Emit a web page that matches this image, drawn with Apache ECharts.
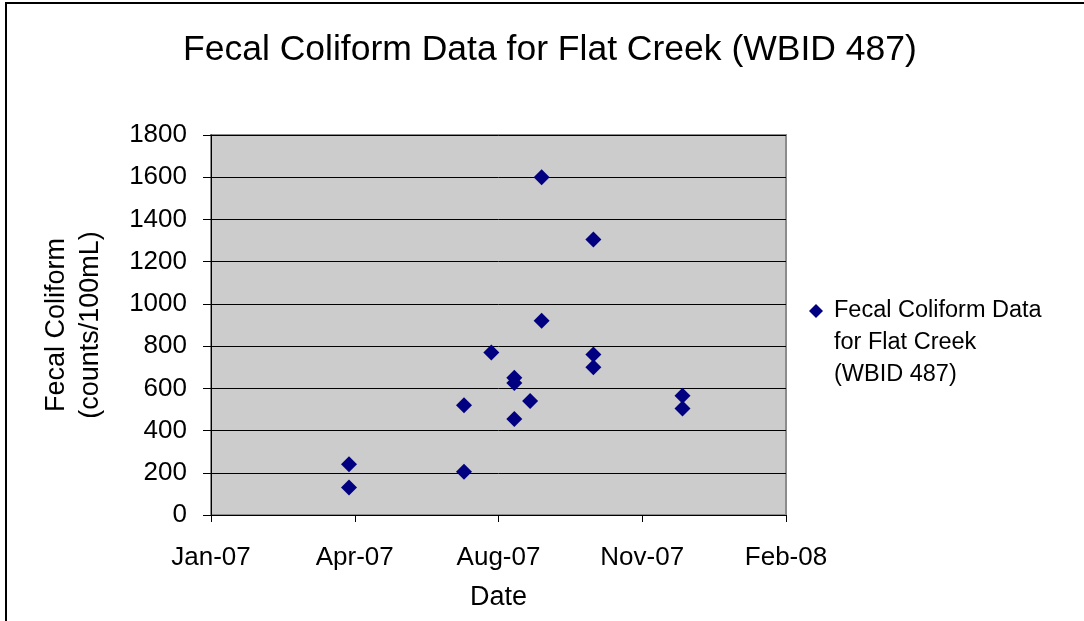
<!DOCTYPE html>
<html><head><meta charset="utf-8">
<script src="https://cdn.jsdelivr.net/npm/echarts@6/dist/echarts.min.js"></script>
<style>html,body{margin:0;padding:0;background:#fff}#c{width:1084px;height:621px}</style>
</head><body><div id="c"></div>
<script>
// Sample dates and fecal coliform counts (counts/100mL)
const sampleDates = ['2007-04-24','2007-04-24','2007-07-13','2007-07-13','2007-08-01','2007-08-17','2007-08-17','2007-08-17','2007-08-28','2007-09-05','2007-09-05','2007-10-11','2007-10-11','2007-10-11','2007-12-12','2007-12-12'];
const fecalValues = [240, 130, 205, 520, 770, 650, 625, 455, 540, 1600, 920, 1305, 760, 700, 565, 505];
// X axis ticks as Excel date serials (Jan-07 ... Feb-08)
const xMin = 39100, xMax = 39500, xStep = 100;
// Y axis ticks
const yMin = 0, yMax = 1800, yStep = 200;
const monthNames = ['Jan','Feb','Mar','Apr','May','Jun','Jul','Aug','Sep','Oct','Nov','Dec'];
const seriesName = 'Fecal Coliform Data for Flat Creek (WBID 487)';
const legendLines = ['Fecal Coliform Data', 'for Flat Creek', '(WBID 487)'];

const EPOCH = Date.UTC(1899, 11, 30);
function toSerial(s) {
  const p = s.split('-').map(Number);
  return Math.round((Date.UTC(p[0], p[1] - 1, p[2]) - EPOCH) / 86400000);
}
function fmtSerial(v) {
  const d = new Date(EPOCH + v * 86400000);
  return monthNames[d.getUTCMonth()] + '-' + String(d.getUTCFullYear()).slice(2);
}
const points = sampleDates.map((d, i) => [toSerial(d), fecalValues[i]]);

const FONT = '"Liberation Sans", Arial, sans-serif';
const chart = echarts.init(document.getElementById('c'), null, {renderer: 'canvas'});
chart.setOption({
  animation: false,
  backgroundColor: '#ffffff',
  title: {
    text: 'Fecal Coliform Data for Flat Creek (WBID 487)',
    left: 183, top: 32, padding: 0,
    textStyle: {fontFamily: FONT, fontSize: 35.5, fontWeight: 'normal', color: '#000'}
  },
  graphic: [{
    type: 'rect', silent: true, z: -1,
    shape: {x: 6, y: 3, width: 1300, height: 900},
    style: {fill: 'none', stroke: '#000', lineWidth: 2}
  }],
  legend: {
    left: 809, top: 231, padding: 0,
    itemWidth: 14, itemHeight: 14, itemGap: 12,
    formatter: () => '\n\n' + legendLines.map(l => '{t|' + l + '}').join('\n'),
    textStyle: {
      fontFamily: FONT, fontSize: 23.5, color: '#000', lineHeight: 32,
      rich: {t: {fontFamily: FONT, fontSize: 23.5, color: '#000', lineHeight: 32, padding: [0, 0, 0, 6]}}
    }
  },
  grid: {
    left: 211, right: 298, top: 135, bottom: 106,
    show: true, backgroundColor: '#cccccc', borderColor: '#8c8c8c', borderWidth: 2
  },
  xAxis: {
    type: 'value', min: xMin, max: xMax, interval: xStep,
    name: 'Date', nameLocation: 'middle', nameGap: 69,
    nameTextStyle: {fontFamily: FONT, fontSize: 27, color: '#000'},
    axisLine: {show: true, onZero: false, lineStyle: {color: '#000', width: 1}},
    axisTick: {show: true, inside: false, length: 7, lineStyle: {color: '#000'}},
    axisLabel: {margin: 30, formatter: fmtSerial, fontFamily: FONT, fontSize: 26, color: '#000', showMinLabel: true, showMaxLabel: true},
    splitLine: {show: false}
  },
  yAxis: {
    type: 'value', min: yMin, max: yMax, interval: yStep,
    name: 'Fecal Coliform\n(counts/100mL)', nameLocation: 'middle', nameGap: 103,
    nameTextStyle: {fontFamily: FONT, fontSize: 27, color: '#000', lineHeight: 34},
    axisLine: {show: true, lineStyle: {color: '#000', width: 1}},
    axisTick: {show: true, inside: false, length: 8, lineStyle: {color: '#000'}},
    axisLabel: {margin: 24, formatter: v => String(v), fontFamily: FONT, fontSize: 26, color: '#000'},
    splitLine: {show: true, lineStyle: {color: '#000', width: 1}}
  },
  series: [{
    name: seriesName,
    type: 'scatter',
    symbol: 'diamond',
    symbolSize: 16,
    itemStyle: {color: '#000080', opacity: 1},
    data: points
  }]
});
</script></body></html>
